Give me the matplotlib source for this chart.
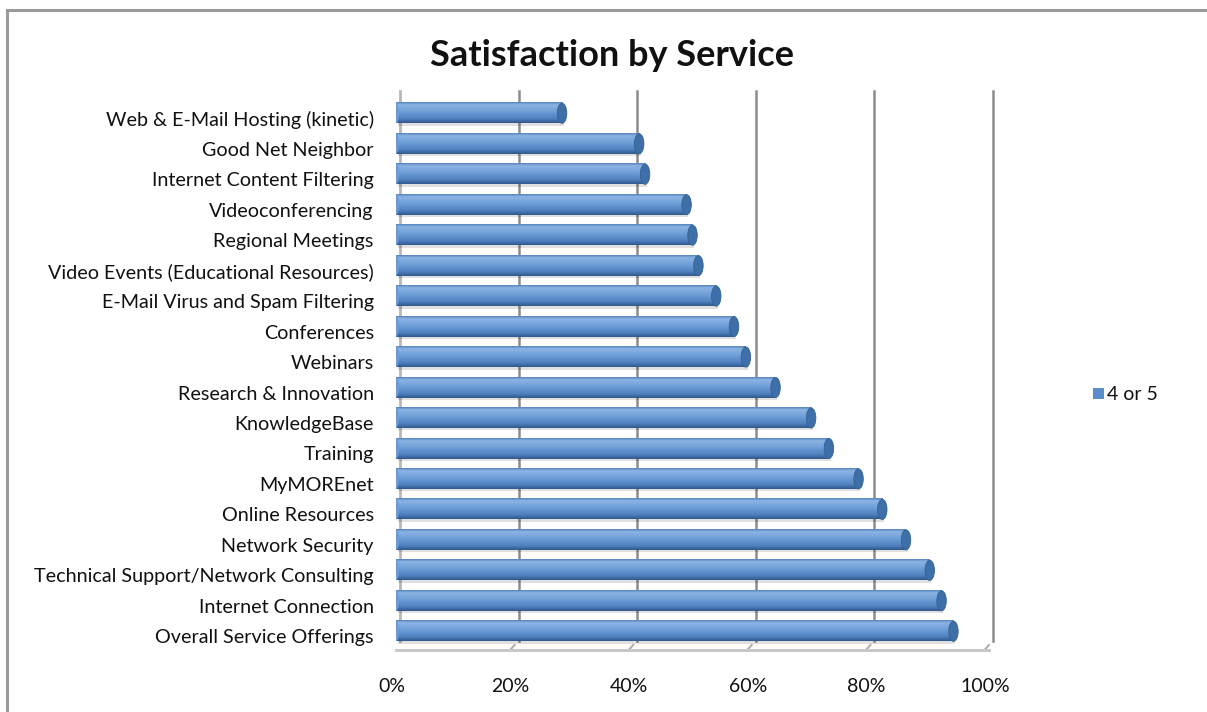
import numpy as np
import matplotlib
matplotlib.use("Agg")
import matplotlib.pyplot as plt
import matplotlib.transforms as mtransforms
from matplotlib.colors import LinearSegmentedColormap
from matplotlib.patches import Ellipse, Rectangle

# ---- datos ----
services = [
    "Web & E-Mail Hosting (kinetic)",
    "Good Net Neighbor",
    "Internet Content Filtering",
    "Videoconferencing",
    "Regional Meetings",
    "Video Events (Educational Resources)",
    "E-Mail Virus and Spam Filtering",
    "Conferences",
    "Webinars",
    "Research & Innovation",
    "KnowledgeBase",
    "Training",
    "MyMOREnet",
    "Online Resources",
    "Network Security",
    "Technical Support/Network Consulting",
    "Internet Connection",
    "Overall Service Offerings",
]
pct_4_or_5 = [28, 41, 42, 49, 50, 51, 54, 57, 59, 64, 70, 73, 78, 82, 86, 90, 92, 94]
x_ticks = [0, 20, 40, 60, 80, 100]
x_tick_labels = ["0%", "20%", "40%", "60%", "80%", "100%"]

plt.rcParams['font.family'] = ['Lato', 'DejaVu Sans']

W, H = 1207, 712
fig = plt.figure(figsize=(W / 100, H / 100), dpi=100)

# marco gris del gráfico
fig.patches.append(Rectangle((7 / W, -0.1), 1.2, 1 - 10 / H + 0.1,
                             transform=fig.transFigure, fill=False,
                             edgecolor="#9a9a9a", linewidth=2.2))

ax = fig.add_axes([396 / W, 1 - 645 / H, (989 - 396) / W, (645 - 95) / H])
n = len(services)
ax.set_xlim(0, 100)
ax.set_ylim(n - 0.55, -0.6)

# rejilla de la pared trasera (desplazada un poco a la derecha)
back = ax.transData + mtransforms.ScaledTranslation(4 / 100, 4 / 100, fig.dpi_scale_trans)
for xv in x_ticks[1:]:
    ax.plot([xv, xv], [n - 0.55, -0.6], color="#8c8c8c", lw=1.8,
            transform=back, clip_on=False, zorder=1)
    # pequeña diagonal en el suelo
    ax.plot([xv - 0.7, xv], [n - 0.55 + 0.15, n - 0.55], color="#b0b0b0", lw=1.5,
            transform=ax.transData, clip_on=False, zorder=1)
# pared izquierda
ax.plot([0, 0], [n - 0.55, -0.6], color="#b8b8b8", lw=2.0, transform=back,
        clip_on=False, zorder=1)
# suelo
ax.plot([0, 100], [n - 0.55 + 0.15, n - 0.55 + 0.15], color="#c8c8c8", lw=2.2,
        clip_on=False, zorder=1)

cmap = LinearSegmentedColormap.from_list(
    "bar", [(0.0, "#5583bd"), (0.12, "#8cb4e4"), (0.45, "#6e9fd8"),
            (0.8, "#4f80bf"), (1.0, "#30598c")])
grad = np.linspace(0, 1, 64).reshape(-1, 1)
bh = 0.66
for i, v in enumerate(pct_4_or_5):
    # sombra
    ax.add_patch(Rectangle((0.3, i - bh / 2 + 0.08), v, bh, facecolor="#000000",
                           alpha=0.12, edgecolor="none", zorder=2))
    ax.imshow(grad, extent=[0, v, i + bh / 2, i - bh / 2], cmap=cmap,
              aspect="auto", interpolation="bilinear", zorder=3)
    ax.add_patch(Ellipse((0, i), 1.0, bh, facecolor="#6a9bd4", edgecolor="none", zorder=3))
    ax.add_patch(Ellipse((v, i), 1.6, bh, facecolor="#3f6fa8", edgecolor="#35628f",
                         lw=0.6, zorder=4))

ax.set_xlim(0, 100)
ax.set_ylim(n - 0.55, -0.6)
ax.set_yticks(range(n))
ax.set_yticklabels(services, fontsize=14.2, color="#111111")
ax.tick_params(axis="y", length=0, pad=16)
for lab in ax.get_yticklabels():
    lab.set_transform(lab.get_transform() +
                      mtransforms.ScaledTranslation(0, -5 / 100, fig.dpi_scale_trans))
ax.set_xticks(x_ticks)
ax.set_xticklabels(x_tick_labels, fontsize=14, color="#111111")
ax.tick_params(axis="x", length=0, pad=24)
for lab in ax.get_xticklabels():
    lab.set_transform(lab.get_transform() +
                      mtransforms.ScaledTranslation(-4 / 100, 0, fig.dpi_scale_trans))
for s in ax.spines.values():
    s.set_visible(False)
ax.set_facecolor("none")

fig.text(612 / W, 1 - 55 / H, "Satisfaction by Service", ha="center", va="center",
         fontsize=26, fontweight="bold", color="#111111")

# leyenda
fig.patches.append(Rectangle((1093 / W, 1 - 399 / H), 11 / W, 11 / H,
                             transform=fig.transFigure, facecolor="#5b8fcc",
                             edgecolor="none"))
fig.text(1107 / W, 1 - 394 / H, "4 or 5", ha="left", va="center",
         fontsize=14, color="#111111")

fig.savefig("out.png", dpi=100)
